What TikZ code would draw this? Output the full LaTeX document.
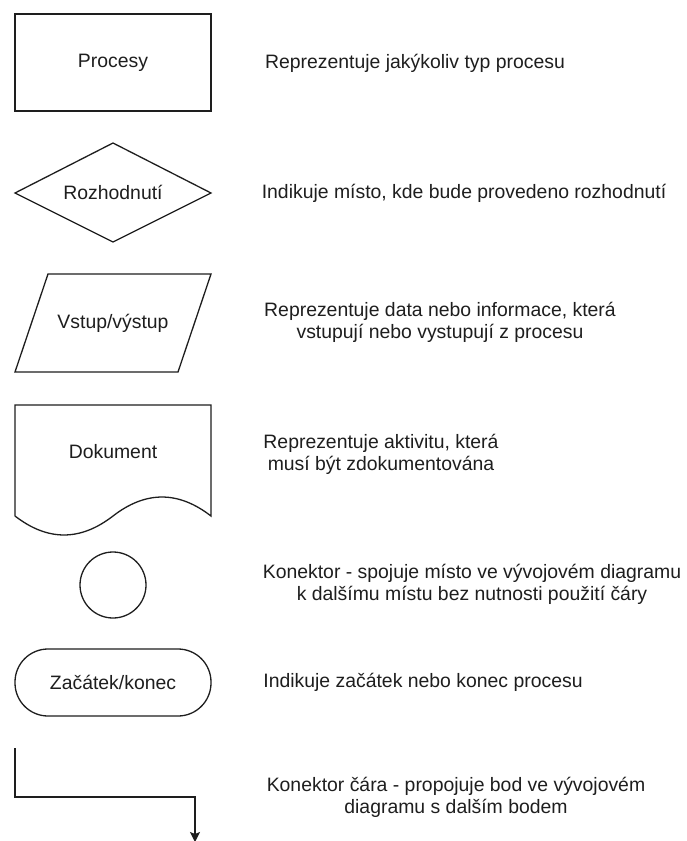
\documentclass[tikz,border=0pt]{standalone}
\usepackage{fontspec}
\setmainfont{Liberation Sans}
\usetikzlibrary{arrows.meta}
\definecolor{ink}{RGB}{30,30,30}
\begin{document}
\begin{tikzpicture}[x=1pt,y=-1pt,
  shapeline/.style={draw=ink,line width=1.3pt,line join=miter},
  lbl/.style={text=ink,font=\fontsize{19.4}{22}\selectfont,align=center,inner sep=0pt},
  flowline/.style={draw=ink,line width=1.3pt,-{Stealth[length=10pt,width=10pt,inset=2pt]}}]
\useasboundingbox[fill=white] (0,0) rectangle (686,841);

% process box
\draw[shapeline] (15,14) rectangle (211,111);
\node[lbl] (procesy) at (113,62.5) {Procesy};
\node[lbl] (procesyTxt) at (415,63) {Reprezentuje jakýkoliv typ procesu};

% decision diamond
\draw[shapeline] (113,143) -- (211,193) -- (113,242) -- (15,193) -- cycle;
\node[lbl] (rozh) at (113,192) {Rozhodnutí};
\node[lbl] (rozhTxt) at (464,193) {Indikuje místo, kde bude provedeno rozhodnutí};

% input/output parallelogram
\draw[shapeline] (48,274) -- (211,274) -- (178,372) -- (15,372) -- cycle;
\node[lbl] (vstup) at (113,323) {Vstup/výstup};
\node[lbl] (vstupTxt) at (440,322.5) {Reprezentuje data nebo informace, která\\vstupují nebo vystupují z procesu};

% document with wavy bottom edge
\draw[shapeline] (15,516) -- (15,405) -- (211,405) -- (211,516)
  .. controls (178.3,490.7) and (145.7,490.7) .. (113,516)
  .. controls (80.3,541.3) and (47.7,541.3) .. (15,516);
\node[lbl] (dok) at (113,452) {Dokument};
\node[lbl] (dokTxt) at (381,454.5) {Reprezentuje aktivitu, která\\musí být zdokumentována};

% on-page connector
\node[shapeline,circle,minimum size=66pt,inner sep=0pt] (kon) at (113,585) {};
\node[lbl] (konTxt) at (472,584) {Konektor - spojuje místo ve vývojovém diagramu\\k dalšímu místu bez nutnosti použití čáry};

% terminator
\draw[shapeline,rounded corners=33pt] (15,649) rectangle (211,716);
\node[lbl] (term) at (113,682) {Začátek/konec};
\node[lbl] (termTxt) at (423,682) {Indikuje začátek nebo konec procesu};

% flow line
\coordinate (lineStart) at (15,748);
\coordinate (lineEnd) at (195,842);
\draw[flowline] (lineStart) |- (195,797) -- (lineEnd);
\node[lbl] (lineTxt) at (456,797) {Konektor čára - propojuje bod ve vývojovém\\diagramu s dalším bodem};
\end{tikzpicture}
\end{document}
